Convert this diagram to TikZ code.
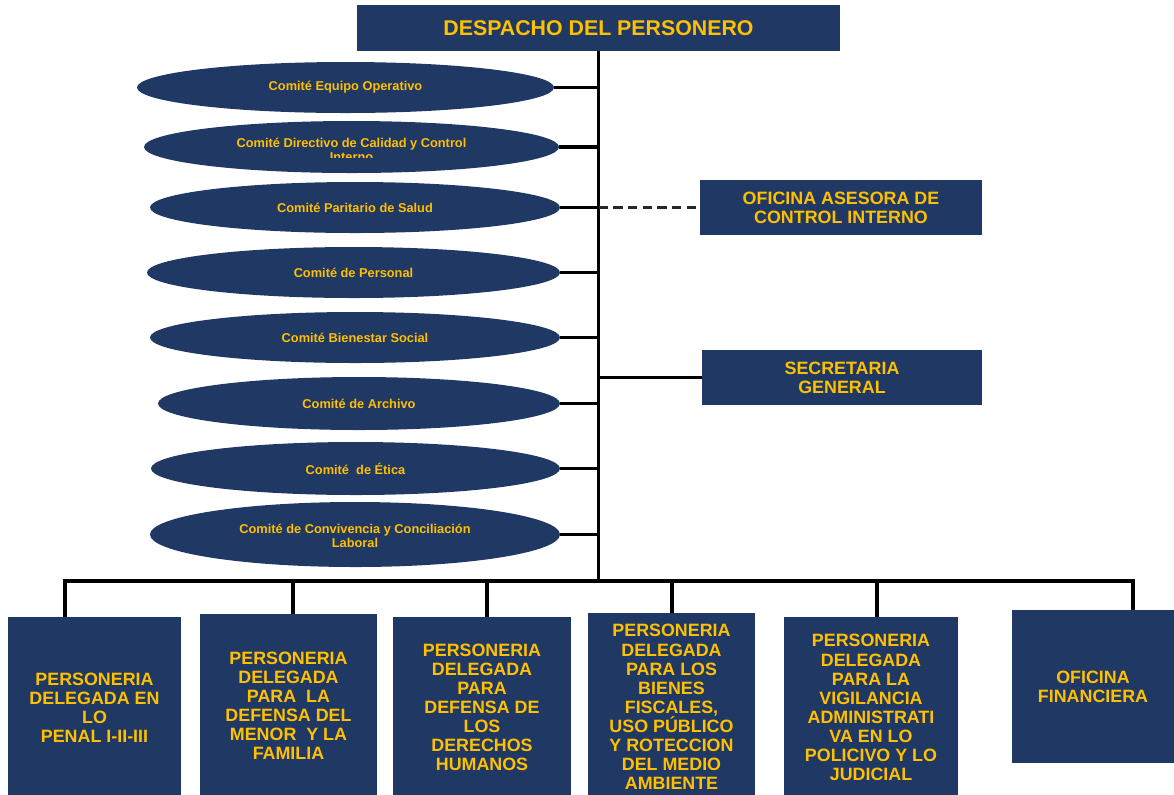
\documentclass[tikz,border=0pt]{standalone}
\usepackage{fontspec}
\setmainfont{Liberation Sans}
\usetikzlibrary{shapes.geometric}
\definecolor{navy}{RGB}{31,56,100}
\definecolor{gold}{RGB}{255,192,0}
\begin{document}
\begin{tikzpicture}[x=0.75pt,y=-0.75pt,
  unit/.style={draw=none,fill=navy,inner sep=0pt,text=gold,font=\bfseries,align=center},
  bigbox/.style={unit,rectangle,font=\bfseries\fontsize{16}{18}\selectfont},
  sidebox/.style={unit,rectangle,font=\bfseries\fontsize{13.4}{14.4}\selectfont},
  lowbox/.style={unit,rectangle,font=\bfseries\fontsize{13.4}{14.3}\selectfont},
  comite/.style={unit,ellipse},
  etext/.style={inner sep=0pt,text=gold,align=center,font=\bfseries\fontsize{9.6}{10.5}\selectfont},
  conn/.style={draw=black,line width=2.3pt},
  linkdash/.style={draw=black!85,line width=2.3pt,dash pattern=on 7pt off 4pt}]
\useasboundingbox (0,0) rectangle (1174,794);

% head office
\node[bigbox,minimum width=362.25pt,minimum height=34.5pt] (top) at (598.5,28) {DESPACHO DEL PERSONERO};

% committees
\node[comite,minimum width=312.75pt,minimum height=38.25pt] (e1) at (345.5,87.5) {};
\node[etext] (e1t) at (e1) {Comité Equipo Operativo};
\node[comite,minimum width=311.25pt,minimum height=39pt] (e2) at (351.5,147) {};
\begin{scope}
  \clip (144,121) rectangle (560,157);
  \node[etext] (e2t) at (351.5,150) {Comité Directivo de Calidad y Control\\Interno};
\end{scope}
\node[comite,minimum width=307.5pt,minimum height=38.25pt] (e3) at (355,207.5) {};
\node[etext] (e3t) at (e3) {Comité Paritario de Salud};
\node[comite,minimum width=309.75pt,minimum height=38.25pt] (e4) at (353.5,272.5) {};
\node[etext] (e4t) at (e4) {Comité de Personal};
\node[comite,minimum width=307.5pt,minimum height=38.25pt] (e5) at (355,337.5) {};
\node[etext] (e5t) at (e5) {Comité Bienestar Social};
\node[comite,minimum width=301.5pt,minimum height=39.75pt] (e6) at (359,403.5) {};
\node[etext] (e6t) at (e6) {Comité de Archivo};
\node[comite,minimum width=306.75pt,minimum height=39.75pt] (e7) at (355.5,468.5) {};
\node[etext] (e7t) at (e7) {Comité \ de Ética};
\node[comite,minimum width=307.5pt,minimum height=48.75pt] (e8) at (355,534.5) {};
\node[etext] (e8t) at (355,536) {Comité de Convivencia y Conciliación\\Laboral};

% staff offices
\node[sidebox,minimum width=211.5pt,minimum height=41.25pt] (ofi) at (841,207.5) {OFICINA ASESORA DE\\CONTROL INTERNO};
\node[sidebox,minimum width=210pt,minimum height=41.25pt] (sec) at (842,377.5) {SECRETARIA\\GENERAL};

% delegated offices (their lower edges run off the page)
\node[lowbox,minimum width=129.75pt,minimum height=136pt] (b1) at (94.5,707.5) {PERSONERIA\\DELEGADA EN\\LO\\PENAL I-II-III};
\node[lowbox,minimum width=132.75pt,minimum height=138pt] (b2) at (288.5,706) {PERSONERIA\\DELEGADA\\PARA \ LA\\DEFENSA DEL\\MENOR \ Y LA\\FAMILIA};
\node[lowbox,minimum width=133.5pt,minimum height=136pt] (b3) at (482,707.5) {PERSONERIA\\DELEGADA\\PARA\\DEFENSA DE\\LOS\\DERECHOS\\HUMANOS};
\node[lowbox,minimum width=125.25pt,minimum height=141pt] (b4) at (671.5,707) {PERSONERIA\\DELEGADA\\PARA LOS\\BIENES\\FISCALES,\\USO PÚBLICO\\Y ROTECCION\\DEL MEDIO\\AMBIENTE};
\node[lowbox,minimum width=130.5pt,minimum height=136pt] (b5) at (871,707.5) {PERSONERIA\\DELEGADA\\PARA LA\\VIGILANCIA\\ADMINISTRATI\\VA EN LO\\POLICIVO Y LO\\JUDICIAL};
\node[lowbox,minimum width=121.5pt,minimum height=114.75pt] (b6) at (1093,686.5) {OFICINA\\FINANCIERA};

% connectors
\coordinate (d1) at (65,581);
\coordinate (d2) at (293,581);
\coordinate (d3) at (487,581);
\coordinate (d4) at (672,581);
\coordinate (d5) at (877,581);
\coordinate (d6) at (1133,581);
\draw[conn] (top.south) -- (top.south |- d1);
\draw[conn] (d1 |- b1.north) -- (d1) -- (d6) -- (d6 |- b6.north);
\foreach \d/\b in {d2/b2,d3/b3,d4/b4,d5/b5}
  \draw[conn] (\d) -- (\d |- \b.north);
\foreach \e in {e1,e2,e3,e4,e5,e6,e7,e8}
  \draw[conn] (\e.east) -- (\e.east -| top.south);
\draw[linkdash] (e3.east -| top.south) -- (ofi.west);
\draw[conn,line width=2pt] (sec.west -| top.south) -- (sec.west);
\end{tikzpicture}
\end{document}
